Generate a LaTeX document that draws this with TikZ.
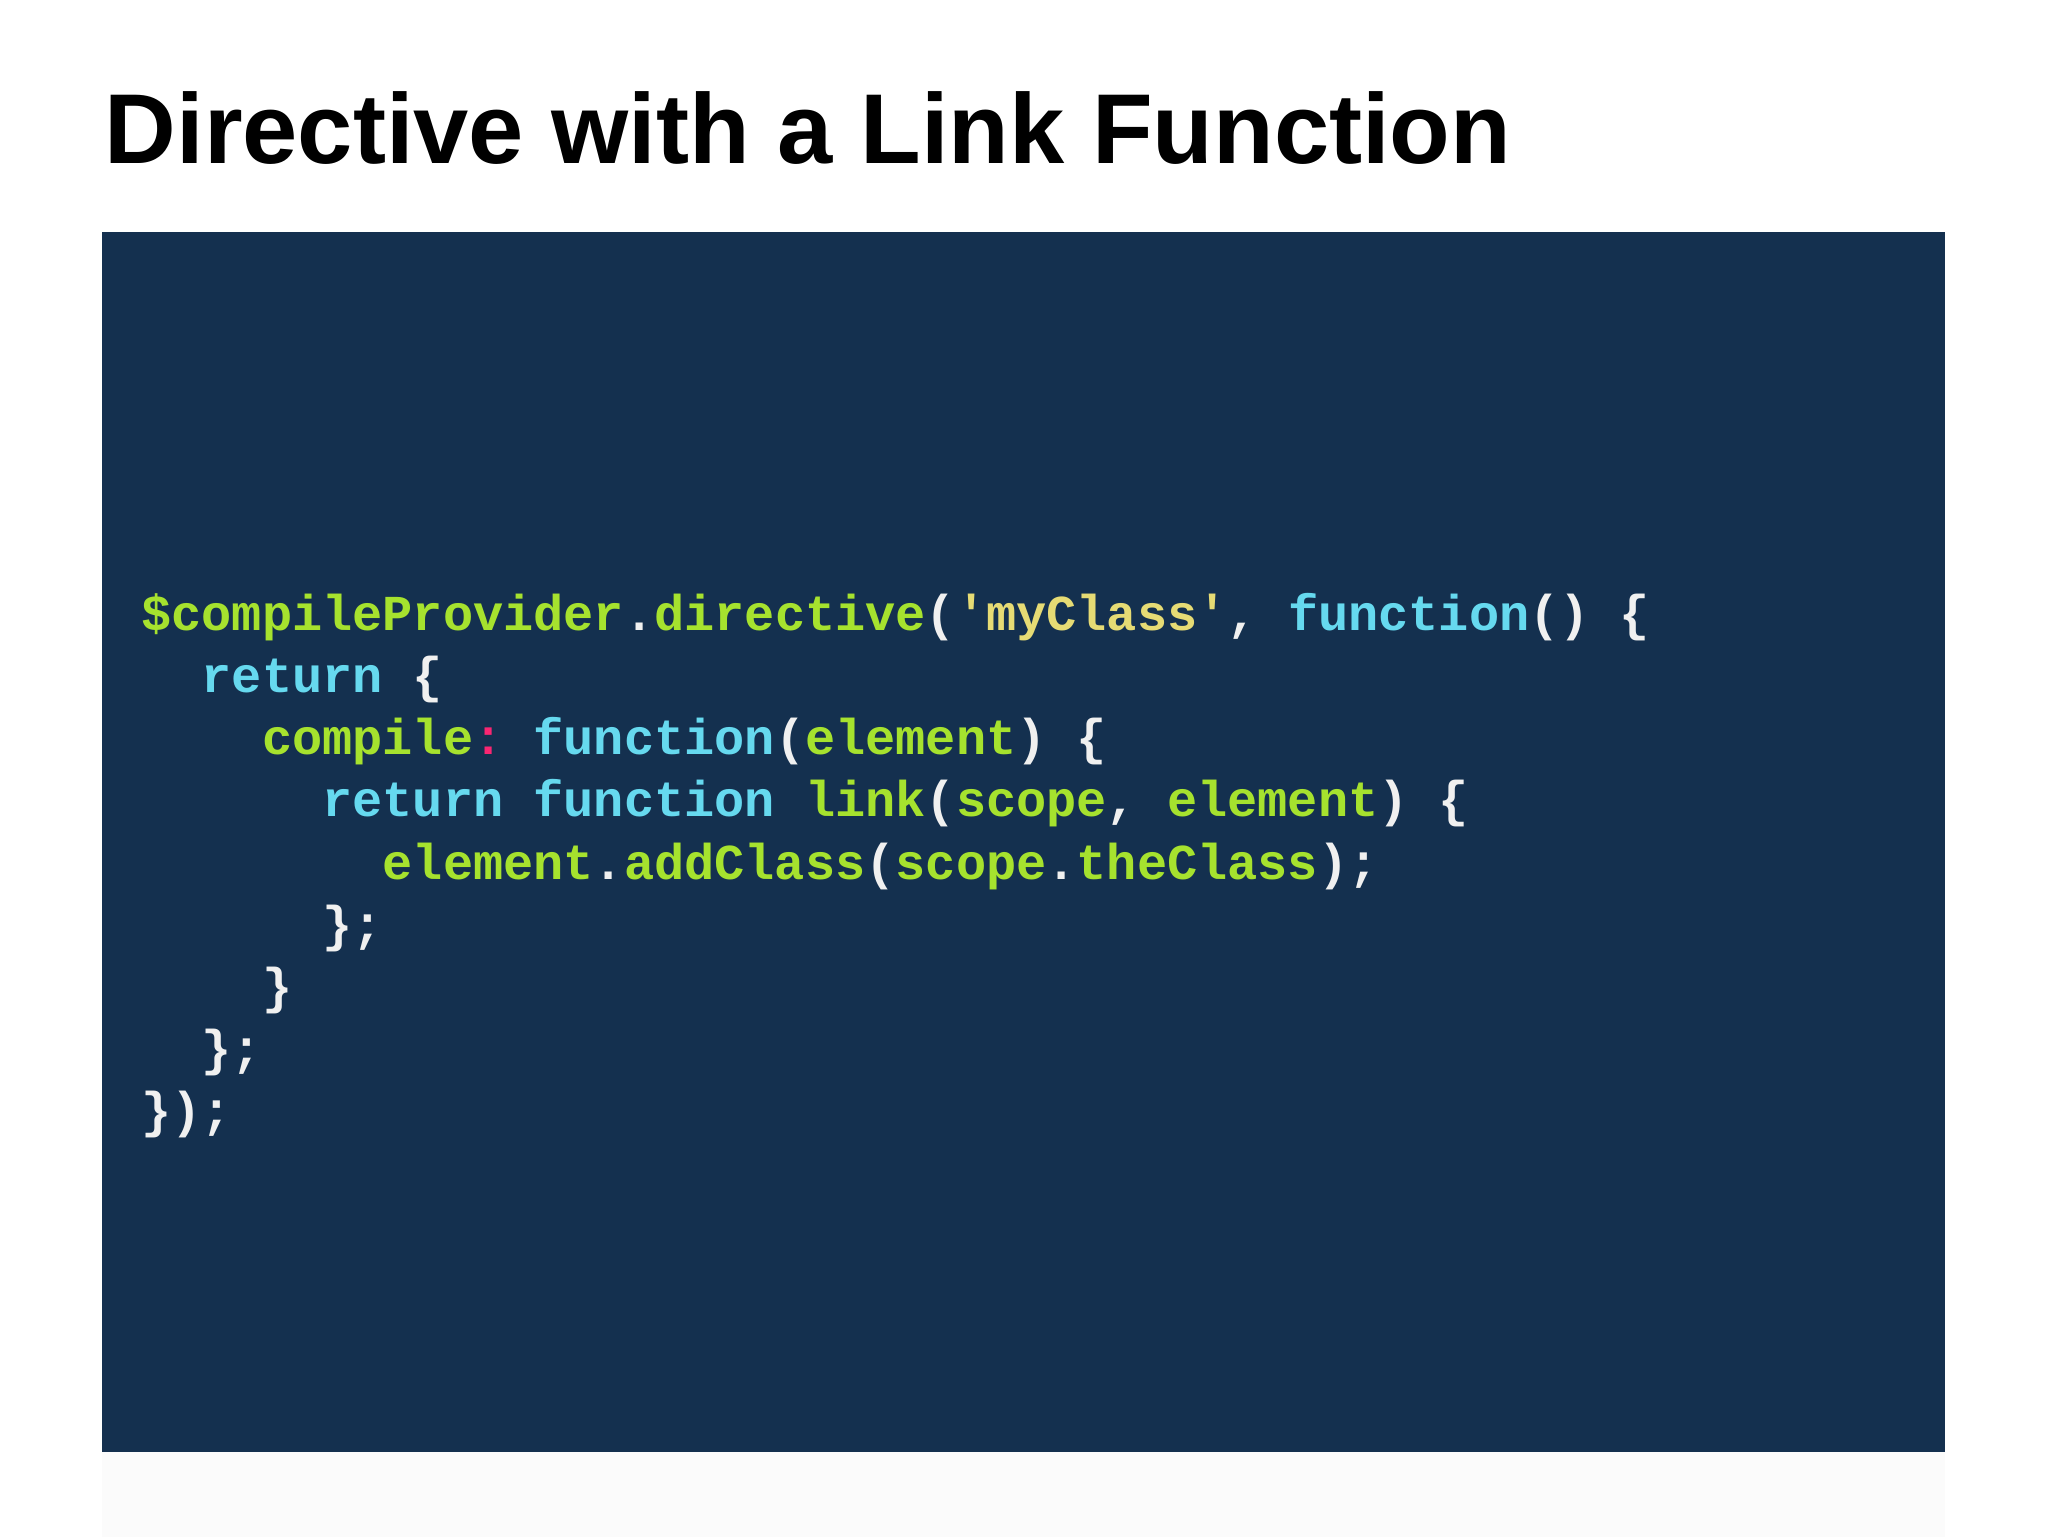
\documentclass[tikz,border=0pt]{standalone}
\usepackage{fontspec}
\setmainfont{Liberation Sans}
\newfontfamily\codefont{Liberation Mono}
\definecolor{bgc}{HTML}{14304F}
\definecolor{cg}{HTML}{A6E22E}
\definecolor{cc}{HTML}{66D9EF}
\definecolor{cy}{HTML}{E6DB74}
\definecolor{cp}{HTML}{F92672}
\definecolor{cwh}{HTML}{F0F0F0}
\newcommand{\kG}[1]{\textcolor{cg}{#1}}
\newcommand{\kC}[1]{\textcolor{cc}{#1}}
\newcommand{\kY}[1]{\textcolor{cy}{#1}}
\newcommand{\kP}[1]{\textcolor{cp}{#1}}
\begin{document}
\begin{tikzpicture}[x=1pt,y=1pt,
  code/.style={anchor=base west,inner sep=0pt,text=cwh,font=\codefont\bfseries\fontsize{38.5}{40}\selectfont}]
\useasboundingbox (0,0) rectangle (1568,-1177);
\fill[white] (0,0) rectangle (1568,-1177);
\fill[gray!3] (78,-1112) rectangle (1489,-1177);
\fill[bgc] (78,-178) rectangle (1489,-1112);
\node[anchor=base west,inner sep=0pt,font=\bfseries\fontsize{76}{80}\selectfont] (title) at (80,-125) {Directive with a Link Function};
\def\chw{23.1}
\def\lh{47.5}
\node[code] (l1) at (108,-483) {\kG{\$compileProvider}.\kG{directive}(\kY{'myClass'},\ \kC{function}()\ \{};
\node[code] (l2) at (108+2*\chw,-483-\lh) {\kC{return}\ \{};
\node[code] (l3) at (108+4*\chw,-483-2*\lh) {\kG{compile}\kP{:}\ \kC{function}(\kG{element})\ \{};
\node[code] (l4) at (108+6*\chw,-483-3*\lh) {\kC{return}\ \kC{function}\ \kG{link}(\kG{scope},\ \kG{element})\ \{};
\node[code] (l5) at (108+8*\chw,-483-4*\lh) {\kG{element}.\kG{addClass}(\kG{scope}.\kG{theClass});};
\node[code] (l6) at (108+6*\chw,-483-5*\lh) {\};};
\node[code] (l7) at (108+4*\chw,-483-6*\lh) {\}};
\node[code] (l8) at (108+2*\chw,-483-7*\lh) {\};};
\node[code] (l9) at (108,-483-8*\lh) {\});};
\end{tikzpicture}
\end{document}
